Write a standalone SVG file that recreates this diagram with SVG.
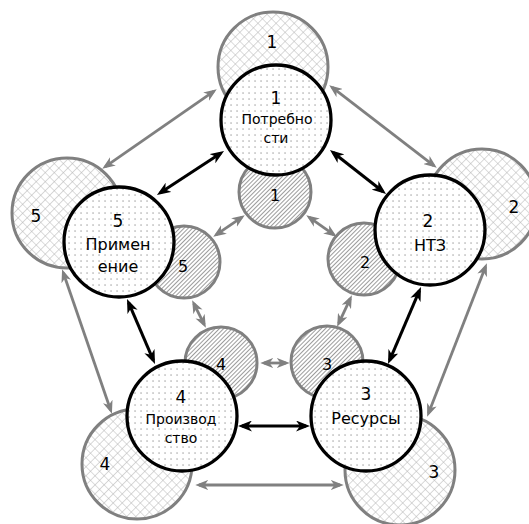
<svg xmlns="http://www.w3.org/2000/svg" width="529" height="524" viewBox="0 0 529 524">
<defs>
  <pattern id="dots" width="6" height="6" patternUnits="userSpaceOnUse">
    <rect width="6" height="6" fill="#fff"/>
    <rect x="2.4" y="2.4" width="1.3" height="1.3" fill="#a0a0a0"/>
  </pattern>
  <pattern id="cross" width="6.4" height="6.4" patternUnits="userSpaceOnUse" patternTransform="rotate(45)">
    <rect width="6.4" height="6.4" fill="#fff"/>
    <path d="M0,0 V6.4 M0,0 H6.4" stroke="#b4b4b4" stroke-width="1"/>
  </pattern>
  <pattern id="hatch" width="3" height="10" patternUnits="userSpaceOnUse" patternTransform="rotate(45)">
    <rect width="3" height="10" fill="#fff"/>
    <path d="M0.5,0 V10" stroke="#9c9c9c" stroke-width="1"/>
  </pattern>
  <marker id="ab" viewBox="0 0 14 11" markerUnits="userSpaceOnUse" markerWidth="14" markerHeight="11" refX="10" refY="5.5" orient="auto-start-reverse">
    <path d="M0,0 L14,5.5 L0,11 L4,5.5 z" fill="#000"/>
  </marker>
  <marker id="ag" viewBox="0 0 14 11" markerUnits="userSpaceOnUse" markerWidth="13" markerHeight="10.5" refX="10" refY="5.5" orient="auto-start-reverse">
    <path d="M0,0 L14,5.5 L0,11 L4,5.5 z" fill="#808080"/>
  </marker>
</defs>
<style>
  text { font-family: "DejaVu Sans", Verdana, sans-serif; fill: #000; text-anchor: middle; }
  .outer { fill: url(#cross); stroke: #808080; stroke-width: 3; }
  .inner { fill: url(#hatch); stroke: #808080; stroke-width: 3; }
  .main { fill: url(#dots); stroke: #000; stroke-width: 3.3; }
  .num { font-size: 17px; }
  .inum { font-size: 16px; }
  .lbl { font-size: 16px; }
  .sm { font-size: 14px; }
  .cb { stroke: #000; stroke-width: 3; fill: none; marker-start: url(#ab); marker-end: url(#ab); }
  .cg { stroke: #808080; stroke-width: 2.8; fill: none; marker-start: url(#ag); marker-end: url(#ag); }
</style>
<rect width="529" height="524" fill="#fff"/>

<g id="outer-1"><circle class="outer" cx="273" cy="67" r="55"/><text class="num" x="272" y="48">1</text></g>
<g id="outer-2"><circle class="outer" cx="482" cy="204" r="55"/><text class="num" x="514" y="213">2</text></g>
<g id="outer-3"><circle class="outer" cx="400" cy="470" r="55"/><text class="num" x="434" y="478">3</text></g>
<g id="outer-4"><circle class="outer" cx="137" cy="464" r="55"/><text class="num" x="105" y="470">4</text></g>
<g id="outer-5"><circle class="outer" cx="67" cy="213" r="55"/><text class="num" x="36" y="222">5</text></g>

<g id="inner-1"><circle class="inner" cx="275" cy="192" r="36"/><text class="inum" x="275" y="201">1</text></g>
<g id="inner-2"><circle class="inner" cx="364" cy="259" r="36"/><text class="inum" x="365" y="268">2</text></g>
<g id="inner-3"><circle class="inner" cx="327" cy="362" r="36"/><text class="inum" x="327" y="370">3</text></g>
<g id="inner-4"><circle class="inner" cx="221" cy="363" r="36"/><text class="inum" x="221" y="370">4</text></g>
<g id="inner-5"><circle class="inner" cx="184" cy="262" r="36"/><text class="inum" x="183" y="272">5</text></g>

<g id="connectors">
  <line class="cb" x1="160.3" y1="192.8" x2="220.7" y2="153.2"/>
  <line class="cb" x1="333.1" y1="152.5" x2="382.9" y2="191.5"/>
  <line class="cb" x1="419.4" y1="290.7" x2="389.6" y2="360.3"/>
  <line class="cb" x1="306" y1="426" x2="242" y2="426"/>
  <line class="cb" x1="128.6" y1="302.7" x2="153.4" y2="360.3"/>

  <line class="cg" x1="213.7" y1="91.3" x2="105.3" y2="166.7"/>
  <line class="cg" x1="332.2" y1="87.4" x2="433.8" y2="165.6"/>
  <line class="cg" x1="485.5" y1="266.7" x2="428.5" y2="413.3"/>
  <line class="cg" x1="340" y1="485" x2="199" y2="485"/>
  <line class="cg" x1="110.7" y1="410.2" x2="63.3" y2="272.8"/>

  <line class="cg" x1="241.7" y1="217.3" x2="216.3" y2="234.7"/>
  <line class="cg" x1="309.3" y1="217.3" x2="333.7" y2="234.7"/>
  <line class="cg" x1="350.3" y1="298.6" x2="338.7" y2="323.4"/>
  <line class="cg" x1="286" y1="363" x2="264" y2="363"/>
  <line class="cg" x1="204.2" y1="324.4" x2="193.8" y2="303.6"/>
</g>

<g id="main-1"><circle class="main" cx="276" cy="120" r="55"/>
  <text class="num" x="276" y="104">1</text>
  <text class="sm" x="277" y="124">Потребно</text>
  <text class="sm" x="276" y="143">сти</text></g>
<g id="main-2"><circle class="main" cx="430" cy="230" r="55"/>
  <text class="num" x="428" y="227">2</text>
  <text class="lbl" x="430" y="251">НТЗ</text></g>
<g id="main-3"><circle class="main" cx="366" cy="416" r="55"/>
  <text class="num" x="366" y="400">3</text>
  <text class="lbl" x="366" y="424">Ресурсы</text></g>
<g id="main-4"><circle class="main" cx="182" cy="416" r="55"/>
  <text class="num" x="181" y="403">4</text>
  <text class="sm" x="181" y="424">Производ</text>
  <text class="sm" x="181" y="443">ство</text></g>
<g id="main-5"><circle class="main" cx="119" cy="242" r="55"/>
  <text class="num" x="118" y="227">5</text>
  <text class="lbl" x="118" y="250">Примен</text>
  <text class="lbl" x="118" y="272">ение</text></g>
</svg>
